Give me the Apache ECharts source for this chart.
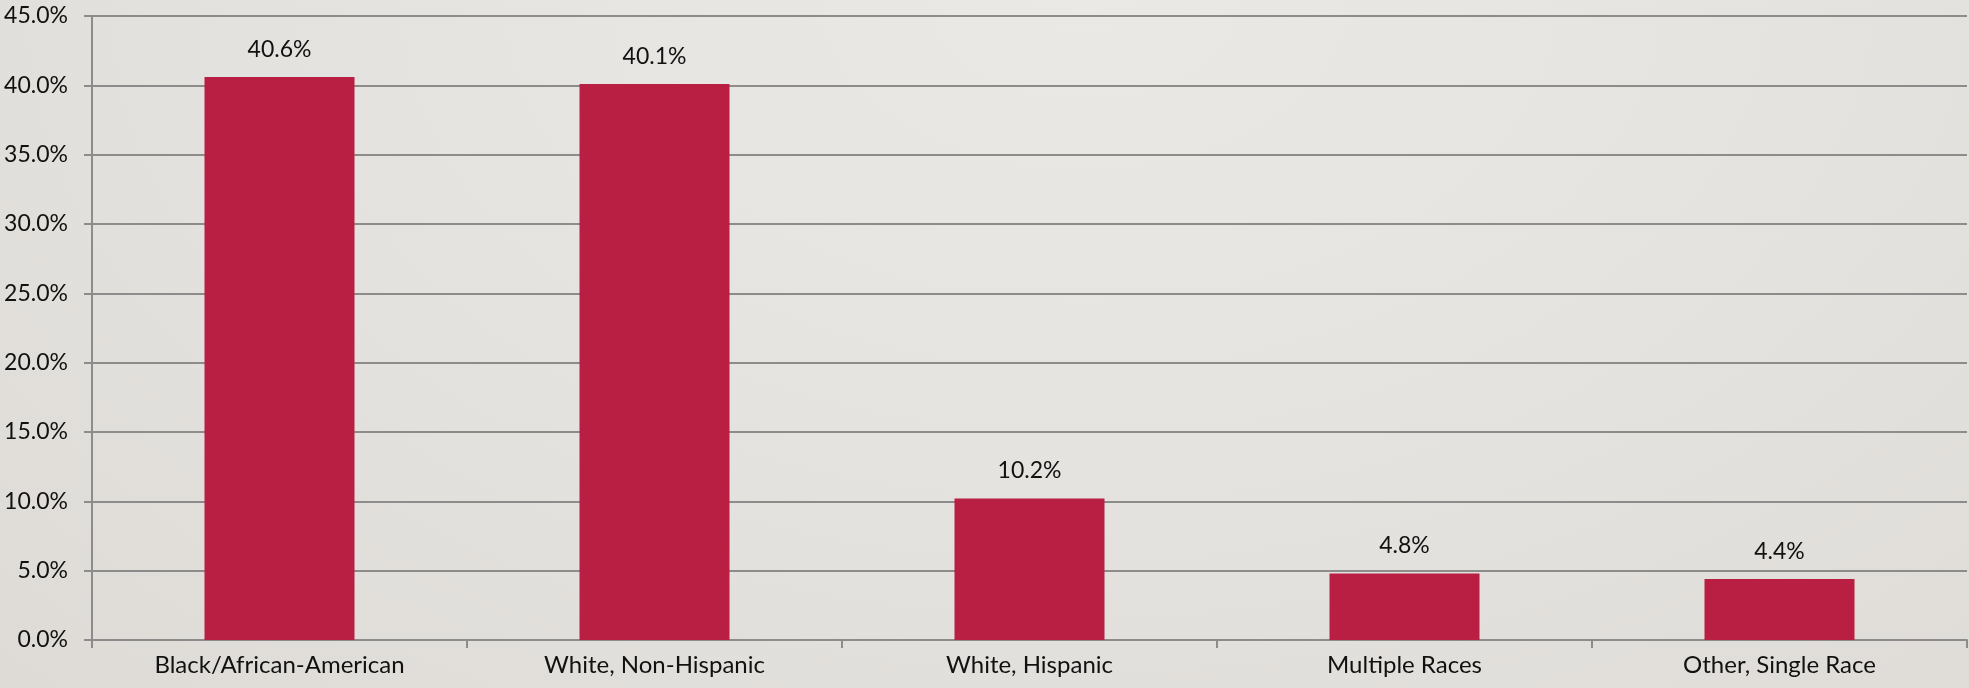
<!DOCTYPE html>
<html>
<head>
<meta charset="utf-8">
<script src="https://cdn.jsdelivr.net/npm/echarts@6/dist/echarts.min.js"></script>
<style>
  html, body { margin: 0; padding: 0; }
  #chart { width: 1969px; height: 688px;
    background: radial-gradient(ellipse at 55% 0%, #ebe9e6 0%, #e4e2de 55%, #dedbd7 100%); }
</style>
</head>
<body>
<div id="chart"></div>
<script>
// 数据
const categories = ['Black/African-American', 'White, Non-Hispanic', 'White, Hispanic', 'Multiple Races', 'Other, Single Race'];
const values = [40.6, 40.1, 10.2, 4.8, 4.4];
const yTicks = { min: 0, max: 45, interval: 5 };

const font = 'Lato, "Open Sans", sans-serif';
const axisGray = '#8c8c8c';

const option = {
  animation: false,
  grid: { left: 92, right: 2, top: 16, bottom: 48 },
  xAxis: {
    type: 'category',
    data: categories,
    axisLine: { lineStyle: { color: axisGray, width: 2 } },
    axisTick: { show: true, length: 8, lineStyle: { color: axisGray, width: 2 } },
    axisLabel: { color: '#111', fontFamily: font, fontSize: 24, margin: 13 }
  },
  yAxis: {
    type: 'value',
    min: yTicks.min, max: yTicks.max, interval: yTicks.interval,
    axisLine: { show: true, lineStyle: { color: axisGray, width: 2 } },
    axisTick: { show: true, length: 8, lineStyle: { color: axisGray, width: 2 } },
    splitLine: { lineStyle: { color: axisGray, width: 2 } },
    axisLabel: {
      color: '#111', fontFamily: font, fontSize: 23, margin: 24,
      formatter: v => v.toFixed(1) + '%'
    }
  },
  series: [{
    type: 'bar',
    data: values,
    barWidth: '40%',
    itemStyle: { color: '#b91e43' },
    label: {
      show: true, position: 'top', distance: 16,
      color: '#111', fontFamily: font, fontSize: 23,
      formatter: p => p.value.toFixed(1) + '%'
    }
  }]
};

function addChart(dom, opt) {
  let myChart = echarts.init(dom);
  myChart.setOption(opt);
  window.addEventListener('resize', function () { myChart.resize(); });
  return myChart;
}
addChart(document.getElementById('chart'), option);
</script>
</body>
</html>
